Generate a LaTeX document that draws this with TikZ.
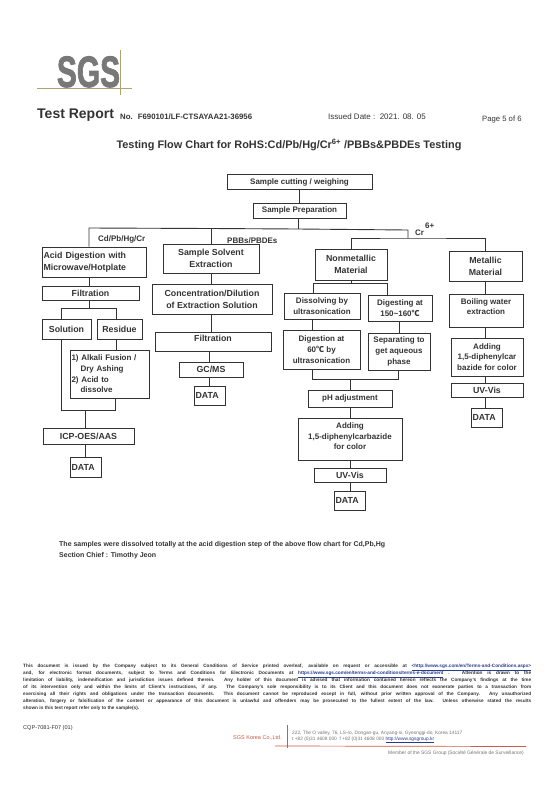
\documentclass[tikz,border=0pt]{standalone}
\usepackage{fontspec}
\setmainfont{Liberation Sans}
\newfontfamily\cjkfont{Noto Sans CJK SC}
\newfontfamily\logofont[FakeBold=2]{Liberation Sans Bold}
\newcommand{\degC}{{\cjkfont ℃}}
\definecolor{inkgray}{gray}{0.2}
\definecolor{logogray}{gray}{0.47}
\definecolor{logoline}{RGB}{170,165,115}
\definecolor{sgsred}{RGB}{205,90,70}
\definecolor{linkblue}{RGB}{40,60,140}
\tikzset{
    flowbox/.style={draw=inkgray,line width=0.9pt,inner sep=1.5pt,align=center,text=inkgray,
        font=\fontsize{8}{10.7}\selectfont\bfseries},
    bigbox/.style={flowbox,font=\fontsize{8.8}{12}\selectfont\bfseries},
    flowline/.style={draw=inkgray,line width=0.9pt},
    flowlabel/.style={text=inkgray,inner sep=0pt,font=\fontsize{8}{9}\selectfont\bfseries},
    pagetext/.style={text=inkgray,inner sep=0pt,anchor=base west},
    lightline/.style={text=black!55,inner sep=0pt,anchor=base west,font=\fontsize{4.8}{6}\selectfont},
}
\begin{document}
\begin{tikzpicture}[x=1pt,y=-1pt]
    \useasboundingbox (0,0) rectangle (559,793);

    % Logo and report header
    \node[text=logogray,inner sep=0pt,anchor=base,xscale=0.68,font=\fontsize{44}{44}\selectfont\logofont] (logo) at (88.5,87) {SGS};
    \coordinate (logoA) at (37,88);
    \coordinate (logoB) at (132,88);
    \coordinate (logoC) at (120,50);
    \coordinate (logoD) at (120,95);
    \draw[logoline,line width=0.7pt] (logoA) -- (logoB);
    \draw[logoline,line width=0.7pt] (logoC) -- (logoD);
    \node[pagetext,font=\fontsize{14}{14}\selectfont\bfseries] (report) at (37,118) {Test Report};
    \node[pagetext,font=\fontsize{7.8}{8}\selectfont\bfseries] (number) at (120,119) {No. \ F690101/LF-CTSAYAA21-36956};
    \node[pagetext,font=\fontsize{8}{8}\selectfont] (issued) at (328,119) {Issued Date :\ \ 2021. 08. 05};
    \node[pagetext,font=\fontsize{7.7}{8}\selectfont] (page) at (482,121) {Page 5 of 6};
    \node[text=inkgray,inner sep=0pt,font=\fontsize{10.9}{12}\selectfont\bfseries] (title) at (289,145) {Testing Flow Chart for RoHS:Cd/Pb/Hg/Cr\textsuperscript{6+} /PBBs\&PBDEs Testing};

    % Top of the chart
    \node[flowbox,minimum width=145,minimum height=15] (cut) at (299.5,182) {Sample cutting / weighing};
    \node[flowbox,minimum width=93,minimum height=15] (prep) at (299.5,210.5) {Sample Preparation};

    % Cd/Pb/Hg/Cr column
    \node[bigbox,minimum width=104,minimum height=30,text width=101,align=left] (acid) at (94,262) {Acid Digestion with\\Microwave/Hotplate};
    \node[bigbox,minimum width=97,minimum height=14] (filtA) at (90.5,293) {Filtration};
    \node[bigbox,minimum width=49,minimum height=20] (solution) at (66.5,329) {Solution};
    \node[bigbox,minimum width=45,minimum height=20] (residue) at (119.5,329) {Residue};
    \node[flowbox,minimum width=79,minimum height=48,text width=76,align=left] (alkali) at (109.5,374) {1) Alkali Fusion /\\\hspace*{9pt}Dry Ashing\\2) Acid to\\\hspace*{9pt}dissolve};
    \node[bigbox,minimum width=91,minimum height=16] (icp) at (88.5,436) {ICP-OES/AAS};
    \node[bigbox,minimum width=31,minimum height=20,text width=28,align=left] (dataA) at (85.5,467) {DATA};

    % PBBs/PBDEs column
    \node[bigbox,minimum width=96,minimum height=29] (solvent) at (211,258.5) {Sample Solvent\\Extraction};
    \node[bigbox,minimum width=120,minimum height=30] (conc) at (212,299) {Concentration/Dilution\\of Extraction Solution};
    \node[bigbox,minimum width=116,minimum height=19] (filtB) at (213,341.5) {Filtration\\[-5pt]~};
    \node[bigbox,minimum width=64,minimum height=15] (gc) at (211,369.5) {GC/MS};
    \node[bigbox,minimum width=31,minimum height=19,text width=28,align=left] (dataB) at (209.5,395.5) {DATA};

    % Cr6+ nonmetallic column
    \node[bigbox,minimum width=72,minimum height=31] (nonmetal) at (351,264.5) {Nonmetallic\\Material};
    \node[flowbox,minimum width=76,minimum height=26] (dissolve) at (322,306) {Dissolving by\\ultrasonication};
    \node[flowbox,minimum width=64,minimum height=26] (digesting) at (400,308) {Digesting at\\150\textasciitilde160\degC};
    \node[flowbox,minimum width=77,minimum height=39] (digestion) at (321.5,349.5) {Digestion at\\60\degC{} by\\ultrasonication};
    \node[flowbox,minimum width=62,minimum height=37] (separating) at (399,351.5) {Separating to\\get aqueous\\phase};
    \node[flowbox,minimum width=84,minimum height=17] (ph) at (350,398.5) {pH adjustment};
    \node[flowbox,minimum width=104,minimum height=42] (addD) at (350,439) {Adding\\1,5-diphenylcarbazide\\for color\\[-5pt]~};
    \node[bigbox,minimum width=72,minimum height=14] (uvD) at (350,475) {UV-Vis};
    \node[bigbox,minimum width=31,minimum height=19,text width=28,align=left] (dataD) at (349.5,500.5) {DATA};

    % Cr6+ metallic column
    \node[bigbox,minimum width=73,minimum height=30] (metal) at (485.5,266) {Metallic\\Material};
    \node[flowbox,minimum width=74,minimum height=33] (boiling) at (486,310.5) {Boiling water\\extraction\\[-3pt]~};
    \node[flowbox,minimum width=72,minimum height=38] (addC) at (487,357) {Adding\\1,5-diphenylcar\\bazide for color};
    \node[bigbox,minimum width=72,minimum height=14] (uvC) at (487,390) {UV-Vis};
    \node[bigbox,minimum width=31,minimum height=19,text width=28,align=left] (dataC) at (486.5,417.5) {DATA};

    % Junctions of the connectors
    \coordinate (busL) at (89,228);
    \coordinate (busM) at (211,228.5);
    \coordinate (busP) at (298,229);
    \coordinate (busR) at (408,230);
    \coordinate (crL) at (351,238);
    \coordinate (crM) at (408,238);
    \coordinate (crR) at (485,238);
    \coordinate (splitL) at (61,308);
    \coordinate (splitM) at (89,308);
    \coordinate (splitR) at (116,308);
    \coordinate (mergeL) at (61,410);
    \coordinate (mergeM) at (85,410);
    \coordinate (mergeR) at (115,410);
    \coordinate (subL) at (313,283);
    \coordinate (subM) at (351,283);
    \coordinate (subR) at (387,283);
    \coordinate (joinL) at (312,379);
    \coordinate (joinM) at (350,379);
    \coordinate (joinR) at (398,379);
    \coordinate (colGC) at (209,0);
    \coordinate (colSep) at (399,0);

    % Connectors
    \draw[flowline] (cut) -- (prep);
    \draw[flowline] (prep.south -| busP) -- (busP);
    \draw[flowline] (acid.north -| busL) -- (busL) -- (busM) -- (busP) -- (busR) -- (crM);
    \draw[flowline] (solvent.north -| busM) -- (busM);
    \draw[flowline] (nonmetal.north -| crL) -- (crL) -- (crM) -- (crR) -- (metal.north -| crR);

    \draw[flowline] (acid.south -| busL) -- (filtA.north -| busL);
    \draw[flowline] (filtA.south -| splitM) -- (splitM);
    \draw[flowline] (solution.north -| splitL) -- (splitL) -- (splitR) -- (residue.north -| splitR);
    \draw[flowline] (solution.south -| mergeL) -- (mergeL) -- (mergeR) -- (alkali.south -| mergeR);
    \draw[flowline] (residue.south -| splitR) -- (alkali.north -| splitR);
    \draw[flowline] (mergeM) -- (icp.north -| mergeM);
    \draw[flowline] (icp.south -| mergeM) -- (dataA.north -| mergeM);

    \draw[flowline] (solvent.south -| busM) -- (conc.north -| busM);
    \draw[flowline] (conc.south -| busM) -- (filtB.north -| busM);
    \draw[flowline] (filtB.south -| colGC) -- (gc.north -| colGC);
    \draw[flowline] (gc.south -| colGC) -- (dataB.north -| colGC);

    \draw[flowline] (nonmetal.south -| subM) -- (subM);
    \draw[flowline] (dissolve.north -| subL) -- (subL) -- (subR) -- (digesting.north -| subR);
    \draw[flowline] (dissolve.south -| joinL) -- (digestion.north -| joinL);
    \draw[flowline] (digesting.south -| colSep) -- (separating.north -| colSep);
    \draw[flowline] (digestion.south -| joinL) -- (joinL) -- (joinR) -- (separating.south -| joinR);
    \draw[flowline] (joinM) -- (ph.north -| joinM);
    \draw[flowline] (ph.south -| joinM) -- (addD.north -| joinM);
    \draw[flowline] (addD.south -| joinM) -- (uvD.north -| joinM);
    \draw[flowline] (uvD.south -| joinM) -- (dataD.north -| joinM);

    \draw[flowline] (metal.south -| crR) -- (boiling.north -| crR);
    \draw[flowline] (boiling.south -| crR) -- (addC.north -| crR);
    \draw[flowline] (addC.south -| crR) -- (uvC.north -| crR);
    \draw[flowline] (uvC.south -| crR) -- (dataC.north -| crR);

    % Branch labels
    \node[flowlabel,anchor=base west] (lblCd) at (98,241) {Cd/Pb/Hg/Cr};
    \node[flowlabel,anchor=base west] (lblPB) at (227,243) {PBBs/PBDEs};
    \node[flowlabel,anchor=base west] (lblCr) at (415,235) {Cr};
    \node[flowlabel,anchor=base west] (lblSix) at (425,228) {6+};

    % Notes under the chart
    \node[pagetext,font=\fontsize{7}{8}\selectfont\bfseries] (note) at (59,546) {The samples were dissolved totally at the acid digestion step of the above flow chart for Cd,Pb,Hg};
    \node[pagetext,font=\fontsize{7}{8}\selectfont\bfseries] (chief) at (59,557) {Section Chief : Timothy Jeon};

    % Footer
    \node[anchor=north west,inner sep=0pt,text=inkgray,text width=508,align=justify,font=\fontsize{4.7}{6.9}\selectfont\bfseries] (terms) at (23,664) {This document is issued by the Company subject to its General Conditions of Service printed overleaf, available on request or accessible at {\color{linkblue}\underline{<http://www.sgs.com/en/Terms-and-Conditions.aspx>}}\linebreak
    and, for electronic format documents, subject to Terms and Conditions for Electronic Documents at {\color{linkblue}\underline{https://www.sgs.com/en/terms-and-conditions/terms-e-document}} . Attention is drawn to the\linebreak
    limitation of liability, indemnification and jurisdiction issues defined therein. Any holder of this document is advised that information contained hereon reflects the Company's findings at the time\linebreak
    of its intervention only and within the limits of Client's instructions, if any. The Company's sole responsibility is to its Client and this document does not exonerate parties to a transaction from\linebreak
    exercising all their rights and obligations under the transaction documents. This document cannot be reproduced except in full, without prior written approval of the Company. Any unauthorized\linebreak
    alteration, forgery or falsification of the content or appearance of this document is unlawful and offenders may be prosecuted to the fullest extent of the law. Unless otherwise stated the results\linebreak
    shown in this test report refer only to the sample(s).};
    \node[pagetext,font=\fontsize{5.6}{6}\selectfont] (code) at (23,729) {CQP-7081-F07 (01)};

    \coordinate (redA) at (275,746);
    \coordinate (redB) at (526,746.5);
    \coordinate (redC) at (287,725);
    \coordinate (redD) at (287,748);
    \draw[sgsred,line width=0.7pt] (redA) -- (redB);
    \draw[sgsred,line width=0.7pt] (redC) -- (redD);
    \node[pagetext,text=sgsred,font=\fontsize{5.5}{6}\selectfont] (korea) at (233,739) {SGS Korea Co.,Ltd.};
    \node[lightline] (addrA) at (292,734) {222, The O valley, 76, LS-ro, Dongan-gu, Anyang-si, Gyeonggi-do, Korea 14117};
    \node[lightline] (addrB) at (292,740) {t +82 (0)31 4608 000 \ f +82 (0)31 4608 000 {\color{linkblue}\underline{http://www.sgsgroup.kr}}};
    \node[lightline,font=\fontsize{4.9}{6}\selectfont] (member) at (388,754.5) {Member of the SGS Group (Société Générale de Surveillance)};
\end{tikzpicture}
\end{document}
